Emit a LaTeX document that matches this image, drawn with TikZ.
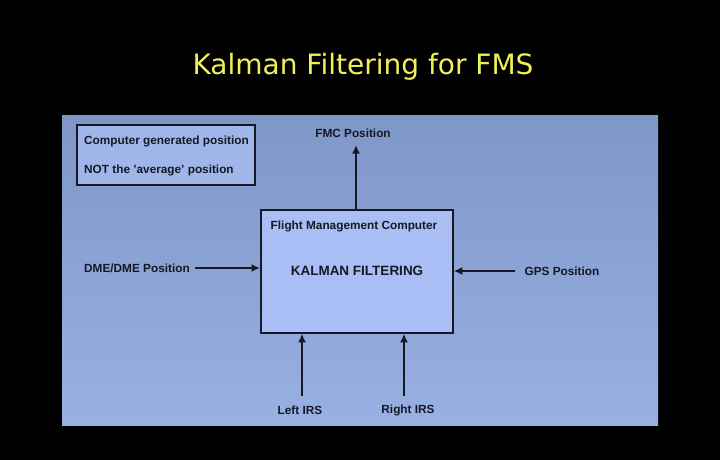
\documentclass[tikz,border=0pt]{standalone}
\usepackage{fontspec}
\setmainfont{Liberation Sans}
\newfontfamily\titlefont{DejaVu Sans}
\usetikzlibrary{arrows.meta}
\begin{document}
\begin{tikzpicture}[x=1pt,y=-1pt,
  lbl/.style={font=\bfseries\fontsize{11.8}{13}\selectfont, text={rgb,255:red,22;green,24;blue,36}, inner sep=0pt},
  arr/.style={draw={rgb,255:red,22;green,24;blue,36}, line width=1.9pt, -{Latex[length=8.5pt,width=8pt]}},
  boxline/.style={draw={rgb,255:red,22;green,24;blue,36}, line width=1.8pt}]
\fill[black] (0,0) rectangle (720,460);
\shade[top color={rgb,255:red,126;green,150;blue,200}, bottom color={rgb,255:red,152;green,176;blue,226}] (62,115) rectangle (658,425);
\node[boxline, fill={rgb,255:red,160;green,182;blue,234}, minimum width=178pt, minimum height=60pt, inner sep=0pt, anchor=north west] (legend) at (76,124) {};
\node[lbl, anchor=west] (l1) at (84,141) {Computer generated position};
\node[lbl, anchor=west] (l2) at (84,170) {NOT the 'average' position};
\node[boxline, fill={rgb,255:red,168;green,190;blue,244}, minimum width=192pt, minimum height=123pt, inner sep=0pt, anchor=north west] (fmc) at (260,209) {};
\node[lbl] (fmct) at (354,226) {Flight Management Computer};
\node[lbl, font=\bfseries\fontsize{13.5}{15}\selectfont] (kf) at (357,271) {KALMAN FILTERING};
\node[lbl] (fmcpos) at (353,133) {FMC Position};
\node[lbl] (dme) at (137,268) {DME/DME Position};
\node[lbl] (gps) at (562,271) {GPS Position};
\node[lbl] (lirs) at (300,410) {Left IRS};
\node[lbl] (rirs) at (408,410) {Right IRS};
\draw[arr] (fmc.north -| 356,0) -- (356,145);
\draw[arr] (195,268) coordinate (d0) -- (d0 -| fmc.west);
\draw[arr] (515,271) coordinate (g0) -- (g0 -| fmc.east);
\draw[arr] (302,396) coordinate (li0) -- (li0 |- fmc.south);
\draw[arr] (404,396) coordinate (ri0) -- (ri0 |- fmc.south);
\node[font=\titlefont\fontsize{28}{32}\selectfont, text={rgb,255:red,240;green,240;blue,90}] (title) at (363,67) {Kalman Filtering for FMS};
\end{tikzpicture}
\end{document}
